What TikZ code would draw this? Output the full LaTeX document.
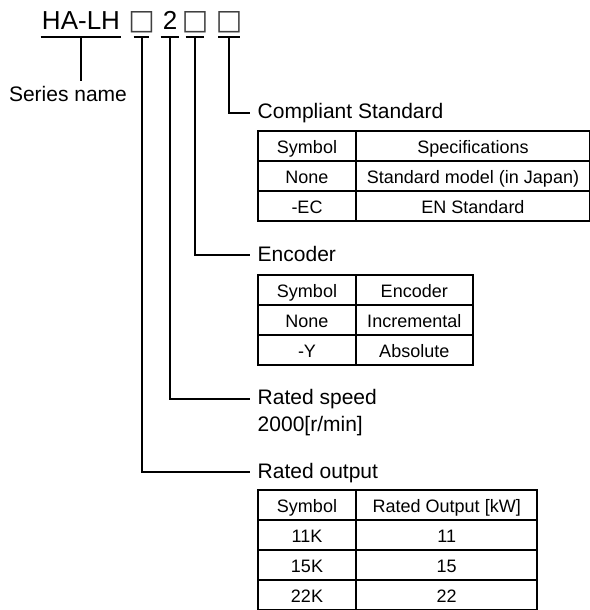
\documentclass[tikz,border=0pt]{standalone}
\usepackage{fontspec}
\setmainfont{Liberation Sans}
\newfontfamily\boxfont{DejaVu Sans}
\usetikzlibrary{matrix}
\tikzset{
  field/.style={font=\fontsize{19.5pt}{22pt}\selectfont, anchor=base,
    inner xsep=0pt, inner ysep=5.25pt, text depth=0pt, minimum width=#1},
  blank/.style={field=#1, font=\boxfont\fontsize{21pt}{22pt}\selectfont,
    text=black!75},
  lbl/.style={font=\fontsize{15.75pt}{19pt}\selectfont, anchor=base west,
    inner xsep=5.6pt, text height=11pt, text depth=2pt},
  cell/.style={draw, line width=1.5pt, outer sep=0pt, inner sep=0pt,
    minimum height=22.5pt, text height=11.25pt, text depth=0pt,
    font=\fontsize{13.5pt}{16pt}\selectfont},
  codetable/.style={matrix of nodes, anchor=north west, inner sep=0pt,
    outer sep=0pt, column sep=-1.5pt, row sep=-1.5pt, nodes={cell},
    column 1/.style={nodes={minimum width=73.5pt}},
    column 2/.style={nodes={minimum width=#1}}},
  wire/.style={line width=1.5pt}
}
\newcommand{\sq}{\makebox[0pt]{□}}

\begin{document}
\begin{tikzpicture}[x=0.75pt,y=-0.75pt]
      \useasboundingbox (0,0) rectangle (589,610);
      % model code
      \node[field=60pt] (ser) at (81,30) {HA-LH};
      \node[blank=11.25pt] (box1) at (141.5,30) {\sq};
      \node[field=13.5pt] (two) at (170,30) {2};
      \node[blank=13.5pt] (box3) at (195,30) {\sq};
      \node[blank=15.75pt] (box4) at (229,30) {\sq};
      \draw[wire] (ser.south west) -- (ser.south east);
      \draw[wire] (box1.south west) -- (box1.south east);
      \draw[wire] (two.south west) -- (two.south east);
      \draw[wire] (box3.south west) -- (box3.south east);
      \draw[wire] (box4.south west) -- (box4.south east);
      \node[font=\fontsize{15.75pt}{19pt}\selectfont, anchor=base] (sname) at (68,101) {Series name};
      \draw[wire] (ser.south) -- (ser.south |- sname.north);
      % labels
      \node[lbl] (std) at (250,118.5) {Compliant Standard};
      \node[lbl] (enc) at (250,261) {Encoder};
      \node[lbl] (spd) at (250,404.5) {Rated speed};
      \node[lbl] (rpm) at (250,431.5) {2000[r/min]};
      \node[lbl] (outp) at (250,478) {Rated output};
      \draw[wire] (box4.south) |- (std.west);
      \draw[wire] (box3.south) |- (enc.west);
      \draw[wire] (two.south) |- (spd.west);
      \draw[wire] (box1.south) |- (outp.west);
      % tables
      \matrix[codetable=175.5pt] (stdtab) at (257,130) {
        Symbol & Specifications \\
        None & Standard model (in Japan) \\
        -EC & EN Standard \\
      };
      \matrix[codetable=87.4pt] (enctab) at (257,274) {
        Symbol & Encoder \\
        None & Incremental \\
        -Y & Absolute \\
      };
      \matrix[codetable=136.1pt] (outtab) at (257,489) {
        Symbol & Rated Output [kW] \\
        11K & 11 \\
        15K & 15 \\
        22K & 22 \\
      };
\end{tikzpicture}
\end{document}
